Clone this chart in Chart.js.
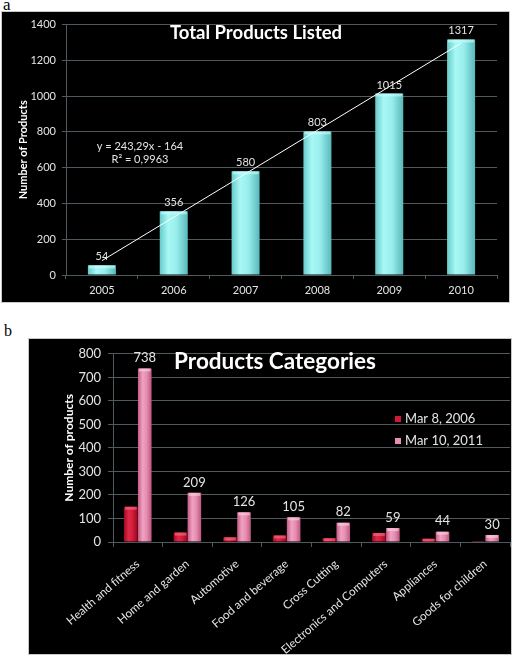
<!DOCTYPE html>
<html><head><meta charset="utf-8">
<script src="https://cdn.jsdelivr.net/npm/chart.js@4/dist/chart.umd.min.js"></script>
<style>
html,body{margin:0;padding:0;background:#fff;}
body{width:522px;height:656px;position:relative;overflow:hidden;}
.lbl{position:absolute;font-family:"Liberation Serif","DejaVu Serif",serif;font-size:17px;color:#000;line-height:17px;}
.box{position:absolute;background:#000;box-shadow:0 0 0 1px #c8c8c8;}
.box canvas{display:block;}
</style></head><body>
<div class="lbl" style="left:3px;top:-4px">a</div>
<div class="box" style="left:2px;top:12px;width:507px;height:290px"><canvas id="ca"></canvas></div>
<div class="lbl" style="left:4px;top:322px;font-size:16px">b</div>
<div class="box" style="left:29px;top:339px;width:482px;height:315px"><canvas id="cb"></canvas></div>
<script>
// ---- Panel a data ----
const years = ['2005','2006','2007','2008','2009','2010'];
const totalProducts = [54, 356, 580, 803, 1015, 1317];
const trendLine = [80, null, null, null, null, 1296];
const trendEquation = ['y = 243,29x - 164', 'R\u00B2 = 0,9963'];
const titleA = 'Total Products Listed';
const yTitleA = 'Number of Products';

// ---- Panel b data ----
const categories = ['Health and fitness','Home and garden','Automotive','Food and beverage','Cross Cutting','Electronics and Computers','Appliances','Goods for children'];
const seriesNames = ['Mar 8, 2006', 'Mar 10, 2011'];
const mar2006 = [150, 40, 20, 28, 16, 38, 14, 1];
const mar2011 = [738, 209, 126, 105, 82, 59, 44, 30];
const titleB = 'Products Categories';
const yTitleB = 'Number of products';

const FONT = 'Lato, "Open Sans", "DejaVu Sans", sans-serif';
const GRID = 'rgb(78,90,95)';
const TXT = '#e4e4e4';

Chart.defaults.font.family = FONT;
Chart.defaults.color = TXT;

const gradPlugin = {
  id: 'grad',
  beforeDatasetsDraw(chart) {
    const ctx = chart.ctx;
    chart.data.datasets.forEach((ds, di) => {
      if (!ds.gradStops) return;
      const meta = chart.getDatasetMeta(di);
      meta.data.forEach(el => {
        const l = el.x - el.width / 2, r = el.x + el.width / 2;
        const g = ctx.createLinearGradient(l, 0, r, 0);
        ds.gradStops.forEach(s => g.addColorStop(s[0], s[1]));
        el.options = Object.assign({}, el.options, {backgroundColor: g});
      });
    });
  },
  afterDatasetsDraw(chart) {
    const ctx = chart.ctx;
    ctx.save();
    chart.data.datasets.forEach((ds, di) => {
      if (!ds.capColor) return;
      const meta = chart.getDatasetMeta(di);
      meta.data.forEach(el => {
        const h = Math.min(3, Math.abs(el.base - el.y));
        ctx.fillStyle = ds.capColor;
        ctx.fillRect(el.x - el.width / 2 + 1, el.y, el.width - 2, h);
      });
    });
    ctx.restore();
  }
};

const textA = {
  id: 'textA',
  afterDatasetsDraw(chart) {
    const ctx = chart.ctx;
    ctx.save();
    const meta = chart.getDatasetMeta(1);
    ctx.fillStyle = TXT;
    ctx.font = '11px ' + FONT;
    ctx.textAlign = 'center';
    ctx.textBaseline = 'bottom';
    meta.data.forEach((el, i) => ctx.fillText(String(totalProducts[i]), el.x, el.y - 3));
    // equation
    ctx.textBaseline = 'middle';
    ctx.fillText(trendEquation[0], 138, 134);
    ctx.fillText(trendEquation[1], 138, 147);
    // title
    ctx.fillStyle = '#ffffff';
    ctx.font = 'bold 18.5px ' + FONT;
    ctx.fillText(titleA, 254, 21);
    ctx.restore();
  }
};

const textB = {
  id: 'textB',
  afterDatasetsDraw(chart) {
    const ctx = chart.ctx;
    ctx.save();
    const meta = chart.getDatasetMeta(1);
    ctx.fillStyle = TXT;
    ctx.font = '13px ' + FONT;
    ctx.textAlign = 'center';
    ctx.textBaseline = 'bottom';
    meta.data.forEach((el, i) => ctx.fillText(String(mar2011[i]), el.x, el.y - 4));
    // legend
    ctx.textAlign = 'left';
    ctx.textBaseline = 'middle';
    const legendColors = ['#d0183a', '#e890b2'];
    seriesNames.forEach((n, i) => {
      const y = 80 + i * 22;
      ctx.fillStyle = legendColors[i];
      ctx.fillRect(366, y - 3, 6, 6);
      ctx.fillStyle = TXT;
      ctx.fillText(n, 376, y);
    });
    // title
    ctx.fillStyle = '#ffffff';
    ctx.textAlign = 'center';
    ctx.font = 'bold 22.5px ' + FONT;
    ctx.fillText(titleB, 246, 23);
    ctx.restore();
  }
};

const plainTick = v => String(v);

new Chart(document.getElementById('ca'), {
  type: 'bar',
  data: {
    labels: years,
    datasets: [
      {
        type: 'line', label: 'trend', data: trendLine, spanGaps: true,
        borderColor: '#ffffff', borderWidth: 1, pointRadius: 0, order: 0
      },
      {
        label: 'Total', data: totalProducts, order: 1,
        backgroundColor: '#8ee8e6',
        gradStops: [[0, '#66caca'], [0.3, '#a8f8f5'], [0.6, '#98eeec'], [1, '#58b8ba']],
        capColor: 'rgba(200,255,255,0.6)',
        categoryPercentage: 1, barPercentage: 0.39
      }
    ]
  },
  options: {
    responsive: true, maintainAspectRatio: false, animation: false, events: [],
    devicePixelRatio: 1,
    layout: {padding: {top: 12, right: 12, left: 0, bottom: 0}},
    plugins: {legend: {display: false}, tooltip: {enabled: false}, title: {display: false}},
    scales: {
      x: {
        grid: {display: true, drawOnChartArea: false, color: GRID, tickLength: 4, offset: true},
        border: {color: GRID, width: 1},
        ticks: {color: TXT, font: {size: 11}, padding: 5},
        afterFit(s) { s.height = 27; }
      },
      y: {
        min: 0, max: 1400,
        grid: {color: GRID, lineWidth: 1, tickLength: 4},
        border: {color: GRID, width: 1},
        ticks: {stepSize: 200, color: TXT, font: {size: 11}, padding: 6, callback: plainTick},
        title: {display: true, text: yTitleA, color: '#ffffff', font: {size: 11, weight: 'bold'}, padding: {top: 15, bottom: 0}},
        afterFit(s) { s.width = 64; }
      }
    }
  },
  plugins: [gradPlugin, textA]
});

new Chart(document.getElementById('cb'), {
  type: 'bar',
  data: {
    labels: categories,
    datasets: [
      {
        label: seriesNames[0], data: mar2006,
        backgroundColor: '#c8102e',
        gradStops: [[0, '#a80a24'], [0.35, '#e02a4a'], [0.65, '#d01a3a'], [1, '#9a0820']],
        capColor: 'rgba(255,120,140,0.55)',
        categoryPercentage: 0.56, barPercentage: 0.98
      },
      {
        label: seriesNames[1], data: mar2011,
        backgroundColor: '#e080a8',
        gradStops: [[0, '#c45c86'], [0.35, '#f0a2c2'], [0.65, '#e48cb0'], [1, '#bc567e']],
        capColor: 'rgba(255,210,225,0.6)',
        categoryPercentage: 0.56, barPercentage: 0.98
      }
    ]
  },
  options: {
    responsive: true, maintainAspectRatio: false, animation: false, events: [],
    devicePixelRatio: 1,
    layout: {padding: {top: 8, right: 1, left: 0, bottom: 0}},
    plugins: {legend: {display: false}, tooltip: {enabled: false}, title: {display: false}},
    scales: {
      x: {
        grid: {display: true, drawOnChartArea: false, color: GRID, tickLength: 5, offset: true},
        border: {color: GRID, width: 1},
        ticks: {color: TXT, font: {size: 11.6}, padding: 10, minRotation: 41, maxRotation: 41, autoSkip: false},
        afterFit(s) { s.height = 112; }
      },
      y: {
        min: 0, max: 800,
        grid: {color: GRID, lineWidth: 1, tickLength: 5},
        border: {color: GRID, width: 1},
        ticks: {stepSize: 100, color: TXT, font: {size: 13}, padding: 7, callback: plainTick},
        title: {display: true, text: yTitleB, color: '#ffffff', font: {size: 12, weight: 'bold'}, padding: {top: 33, bottom: 0}},
        afterFit(s) { s.width = 84; }
      }
    }
  },
  plugins: [gradPlugin, textB]
});
</script>
</body></html>
